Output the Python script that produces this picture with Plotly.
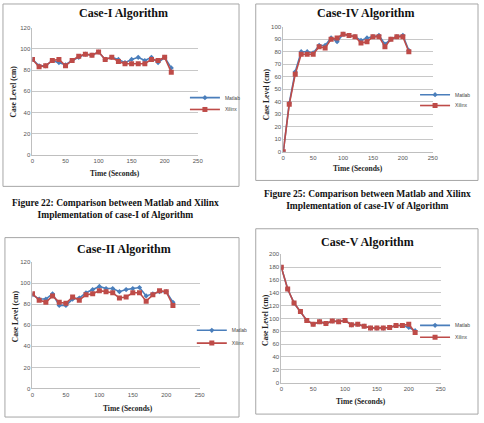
import plotly.graph_objects as go

W, H = 484, 423

time_s = [0, 10, 20, 30, 40, 50, 60, 70, 80, 90, 100, 110, 120, 130, 140, 150, 160, 170, 180, 190, 200, 210]

case1_matlab = [90, 84, 84, 89, 87, 85, 89, 92, 95, 94, 97, 90, 92, 90, 87, 90, 92, 89, 92, 87, 92, 82]
case1_xilinx = [90, 83, 84, 89, 90, 84, 89, 93, 95, 94, 97, 90, 92, 88, 86, 86, 86, 86, 90, 89, 92, 78]

case4_matlab = [0, 39, 64, 80, 80, 79, 85, 85, 91, 88, 94, 93, 92, 89, 91, 92, 93, 86, 90, 92, 93, 81]
case4_xilinx = [0, 38, 62, 78, 78, 78, 84, 83, 90, 91, 94, 93, 92, 87, 88, 92, 92, 84, 90, 92, 92, 80]

case2_matlab = [89, 85, 85, 90, 79, 79, 85, 86, 91, 94, 97, 95, 95, 92, 94, 95, 96, 88, 90, 92, 92, 82]
case2_xilinx = [90, 84, 82, 88, 82, 81, 87, 84, 89, 90, 93, 92, 91, 86, 87, 91, 91, 83, 89, 93, 92, 79]

case5_matlab = [180, 146, 124, 111, 97, 91, 95, 92, 96, 95, 97, 90, 91, 88, 85, 85, 85, 86, 89, 89, 86, 81]
case5_xilinx = [180, 146, 124, 111, 97, 91, 95, 92, 96, 95, 97, 90, 91, 88, 85, 85, 85, 86, 89, 89, 91, 78]

series_names = ["Matlab", "Xilinx"]
panel_titles = ["Case-I Algorithm", "Case-IV Algorithm", "Case-II Algorithm", "Case-V Algorithm"]
captions = [
    "Figure 22: Comparison between Matlab and Xilinx<br>Implementation of case-I of Algorithm",
    "Figure 25: Comparison between Matlab and Xilinx<br>Implementation of case-IV of Algorithm",
]
y_title = "Case Level (cm)"
x_title = "Time (Seconds)"

BLUE = "#4A7EBB"
RED = "#BE4B48"
SERIF = "Liberation Serif, Times New Roman, serif"
SANS = "Liberation Sans, Arial, sans-serif"


def fx(px):
    return px / W


def fy(py):
    return 1 - py / H


panels = [
    dict(m=case1_matlab, x=case1_xilinx, area=(31, 199, 25, 154), ymax=120, dt=20,
         box=(1, 241, 1, 186), title=(124, 10), xt=(115, 173), yt=(12, 90), leg=(186, 96, 108)),
    dict(m=case4_matlab, x=case4_xilinx, area=(286, 438, 24, 151), ymax=100, dt=10,
         box=(258, 484, 1, 180), title=(370, 10), xt=(362, 168), yt=(269, 93), leg=(420, 93, 104)),
    dict(m=case2_matlab, x=case2_xilinx, area=(31, 201, 263, 391), ymax=120, dt=20,
         box=(3, 241, 238, 420), title=(124, 250), xt=(128, 411), yt=(14, 318), leg=(193, 332, 345)),
    dict(m=case5_matlab, x=case5_xilinx, area=(284, 446, 255, 385), ymax=200, dt=20,
         box=(258, 484, 229, 417), title=(372, 242), xt=(365, 404), yt=(268, 322), leg=(420, 327, 339)),
]

fig = go.Figure()
annotations = []
shapes = []
layout = {}

for i, p in enumerate(panels):
    n = i + 1
    xa = "x" if n == 1 else f"x{n}"
    ya = "y" if n == 1 else f"y{n}"
    lg_m = "legend" if n == 1 else f"legend{n}"
    lg_x = f"legend{n + 4}"
    lx, lym, lyx = p["leg"]
    fig.add_trace(go.Scatter(x=time_s, y=p["m"], name=series_names[0], mode="lines+markers",
                             line=dict(color=BLUE, width=1.6),
                             marker=dict(symbol="diamond", size=4, color=BLUE),
                             xaxis=xa, yaxis=ya, legend=lg_m))
    fig.add_trace(go.Scatter(x=time_s, y=p["x"], name=series_names[1], mode="lines+markers",
                             line=dict(color=RED, width=1.6),
                             marker=dict(symbol="square", size=5, color=RED),
                             xaxis=xa, yaxis=ya, legend=lg_x))
    x0, x1, yt, yb = p["area"]
    xkey = "xaxis" if n == 1 else f"xaxis{n}"
    ykey = "yaxis" if n == 1 else f"yaxis{n}"
    layout[xkey] = dict(domain=[fx(x0), fx(x1)], range=[0, 250], dtick=50, anchor=ya,
                        showgrid=False, zeroline=False, showline=True, linecolor="#BFBFBF",
                        linewidth=1, ticks="", tickfont=dict(family=SANS, size=6, color="#555"),
                        fixedrange=True)
    layout[ykey] = dict(domain=[fy(yb), fy(yt)], range=[0, p["ymax"]], dtick=p["dt"], anchor=xa,
                        showgrid=True, gridcolor="#C8C8C8", gridwidth=1, zeroline=False,
                        showline=True, linecolor="#BFBFBF", linewidth=1, ticks="",
                        tickfont=dict(family=SANS, size=6, color="#555"), fixedrange=True)
    for key, ly in ((lg_m, lym), (lg_x, lyx)):
        layout[key] = dict(x=fx(lx), y=fy(ly), xanchor="left", yanchor="middle",
                           bgcolor="rgba(0,0,0,0)", font=dict(family=SANS, size=5, color="#444"),
                           itemwidth=30)
    bx0, bx1, by0, by1 = p["box"]
    shapes.append(dict(type="rect", xref="paper", yref="paper", x0=fx(bx0), x1=fx(bx1),
                       y0=fy(by1), y1=fy(by0), line=dict(color="#A6A6A6", width=1)))
    tx, ty = p["title"]
    annotations.append(dict(text=f"<b>{panel_titles[i]}</b>", x=fx(tx), y=fy(ty), xref="paper",
                            yref="paper", showarrow=False, xanchor="center", yanchor="middle",
                            font=dict(family=SERIF, size=12, color="#111")))
    ax_, ay_ = p["xt"]
    annotations.append(dict(text=f"<b>{x_title}</b>", x=fx(ax_), y=fy(ay_), xref="paper",
                            yref="paper", showarrow=False, xanchor="center", yanchor="middle",
                            font=dict(family=SERIF, size=7.5, color="#222")))
    bx_, by_ = p["yt"]
    annotations.append(dict(text=f"<b>{y_title}</b>", x=fx(bx_), y=fy(by_), xref="paper",
                            yref="paper", showarrow=False, xanchor="center", yanchor="middle",
                            textangle=-90, font=dict(family=SERIF, size=7.5, color="#222")))

annotations.append(dict(text=f"<b>{captions[0]}</b>", x=fx(115), y=fy(209), xref="paper", yref="paper",
                        showarrow=False, xanchor="center", yanchor="middle",
                        font=dict(family=SERIF, size=9.5, color="#111")))
annotations.append(dict(text=f"<b>{captions[1]}</b>", x=fx(372), y=fy(200), xref="paper", yref="paper",
                        showarrow=False, xanchor="center", yanchor="middle",
                        font=dict(family=SERIF, size=9.5, color="#111")))

fig.update_layout(width=W, height=H, margin=dict(l=0, r=0, t=0, b=0), autosize=False,
                  paper_bgcolor="white", plot_bgcolor="white", showlegend=True,
                  annotations=annotations, shapes=shapes, **layout)

fig.write_html("out.html", config={"displayModeBar": False})
